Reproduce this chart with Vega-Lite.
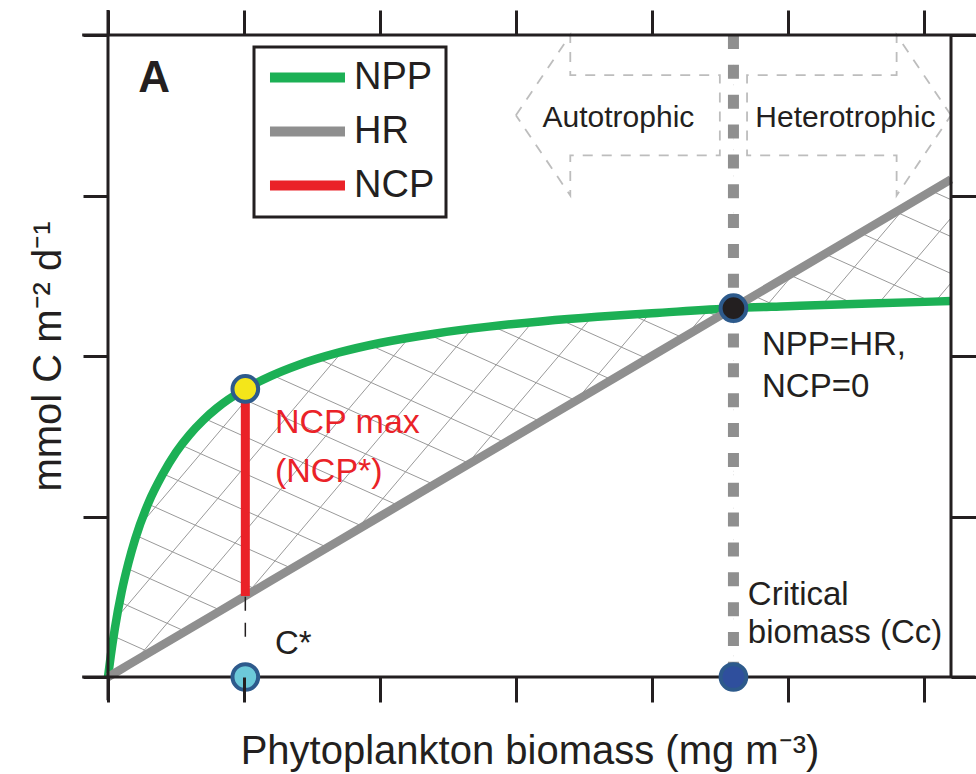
{
  "$schema": "https://vega.github.io/schema/vega-lite/v6.json",
  "width": 843,
  "height": 642,
  "autosize": "none",
  "padding": {"left": 108, "top": 35, "right": 25, "bottom": 97},
  "background": "white",
  "config": {"view": {"stroke": null}, "font": "Liberation Sans", "legend": {"strokeWidth": 3}},
  "datasets": {
    "curve": [
      {"x": 0, "npp": 0, "hr": 0},
      {"x": 0.02, "npp": 0.13, "hr": 0.01},
      {"x": 0.05, "npp": 0.3, "hr": 0.025},
      {"x": 0.1, "npp": 0.53, "hr": 0.05},
      {"x": 0.15, "npp": 0.71, "hr": 0.075},
      {"x": 0.2, "npp": 0.86, "hr": 0.1},
      {"x": 0.3, "npp": 1.09, "hr": 0.15},
      {"x": 0.4, "npp": 1.26, "hr": 0.2},
      {"x": 0.5, "npp": 1.4, "hr": 0.25},
      {"x": 0.6, "npp": 1.51, "hr": 0.3},
      {"x": 0.7, "npp": 1.6, "hr": 0.35},
      {"x": 0.8, "npp": 1.675, "hr": 0.4},
      {"x": 1.0, "npp": 1.79, "hr": 0.5},
      {"x": 1.2, "npp": 1.876, "hr": 0.6},
      {"x": 1.4, "npp": 1.944, "hr": 0.7},
      {"x": 1.7, "npp": 2.022, "hr": 0.85},
      {"x": 2.0, "npp": 2.081, "hr": 1.0},
      {"x": 2.4, "npp": 2.139, "hr": 1.2},
      {"x": 2.8, "npp": 2.183, "hr": 1.4},
      {"x": 3.2, "npp": 2.217, "hr": 1.6},
      {"x": 3.6, "npp": 2.244, "hr": 1.8},
      {"x": 4.0, "npp": 2.266, "hr": 2.0},
      {"x": 4.6, "npp": 2.298, "hr": 2.3},
      {"x": 5.0, "npp": 2.31, "hr": 2.5},
      {"x": 5.6, "npp": 2.327, "hr": 2.8},
      {"x": 6.2, "npp": 2.342, "hr": 3.1}
    ],
    "hatch": [
      {"x": 0, "y": 5.56, "x2": 6.2, "y2": 3.204},
      {"x": 0, "y": 5.33, "x2": 6.2, "y2": 2.974},
      {"x": 0, "y": 5.1, "x2": 6.2, "y2": 2.744},
      {"x": 0, "y": 4.87, "x2": 6.2, "y2": 2.514},
      {"x": 0, "y": 4.64, "x2": 6.2, "y2": 2.284},
      {"x": 0, "y": 4.41, "x2": 6.2, "y2": 2.054},
      {"x": 0, "y": 4.18, "x2": 6.2, "y2": 1.824},
      {"x": 0, "y": 3.95, "x2": 6.2, "y2": 1.594},
      {"x": 0, "y": 3.72, "x2": 6.2, "y2": 1.364},
      {"x": 0, "y": 3.49, "x2": 6.2, "y2": 1.134},
      {"x": 0, "y": 3.26, "x2": 6.2, "y2": 0.904},
      {"x": 0, "y": 3.03, "x2": 6.2, "y2": 0.674},
      {"x": 0, "y": 2.8, "x2": 6.2, "y2": 0.444},
      {"x": 0, "y": 2.57, "x2": 6.2, "y2": 0.214},
      {"x": 0, "y": 2.34, "x2": 6.2, "y2": -0.016},
      {"x": 0, "y": 2.11, "x2": 6.2, "y2": -0.246},
      {"x": 0, "y": 1.88, "x2": 6.2, "y2": -0.476},
      {"x": 0, "y": 1.65, "x2": 6.2, "y2": -0.706},
      {"x": 0, "y": 1.42, "x2": 6.2, "y2": -0.936},
      {"x": 0, "y": 1.19, "x2": 6.2, "y2": -1.166},
      {"x": 0, "y": 0.96, "x2": 6.2, "y2": -1.396},
      {"x": 0, "y": 0.73, "x2": 6.2, "y2": -1.626},
      {"x": 0, "y": 0.5, "x2": 6.2, "y2": -1.856},
      {"x": 0, "y": 0.27, "x2": 6.2, "y2": -2.086},
      {"x": 0, "y": 0.04, "x2": 6.2, "y2": -2.316},
      {"x": 0, "y": -3.745, "x2": 6.2, "y2": 2.455},
      {"x": 0, "y": -3.34, "x2": 6.2, "y2": 2.86},
      {"x": 0, "y": -2.935, "x2": 6.2, "y2": 3.265},
      {"x": 0, "y": -2.53, "x2": 6.2, "y2": 3.67},
      {"x": 0, "y": -2.125, "x2": 6.2, "y2": 4.075},
      {"x": 0, "y": -1.72, "x2": 6.2, "y2": 4.48},
      {"x": 0, "y": -1.315, "x2": 6.2, "y2": 4.885},
      {"x": 0, "y": -0.91, "x2": 6.2, "y2": 5.29},
      {"x": 0, "y": -0.505, "x2": 6.2, "y2": 5.695},
      {"x": 0, "y": -0.1, "x2": 6.2, "y2": 6.1},
      {"x": 0, "y": 0.305, "x2": 6.2, "y2": 6.505},
      {"x": 0, "y": 0.71, "x2": 6.2, "y2": 6.91},
      {"x": 0, "y": 1.115, "x2": 6.2, "y2": 7.315},
      {"x": 0, "y": 1.52, "x2": 6.2, "y2": 7.72},
      {"x": 0, "y": 1.925, "x2": 6.2, "y2": 8.125},
      {"x": 0, "y": 2.33, "x2": 6.2, "y2": 8.53}
    ],
    "frame": [
      {"x": -0.19, "x2": 6.38, "y": 0, "y2": 0},
      {"x": -0.19, "x2": 6.38, "y": 4, "y2": 4},
      {"x": 0, "x2": 0, "y": -0.145, "y2": 4.155},
      {"x": 6.2, "x2": 6.2, "y": 0, "y2": 4}
    ],
    "arrows": [
      {"shape": "auto", "i": 0, "x": 3.0, "y": 3.5},
      {"shape": "auto", "i": 1, "x": 3.4, "y": 4.0},
      {"shape": "auto", "i": 2, "x": 3.4, "y": 3.75},
      {"shape": "auto", "i": 3, "x": 4.5, "y": 3.75},
      {"shape": "auto", "i": 4, "x": 4.5, "y": 3.25},
      {"shape": "auto", "i": 5, "x": 3.4, "y": 3.25},
      {"shape": "auto", "i": 6, "x": 3.4, "y": 3.0},
      {"shape": "auto", "i": 7, "x": 3.0, "y": 3.5},
      {"shape": "hetero", "i": 0, "x": 6.2, "y": 3.5},
      {"shape": "hetero", "i": 1, "x": 5.8, "y": 4.0},
      {"shape": "hetero", "i": 2, "x": 5.8, "y": 3.75},
      {"shape": "hetero", "i": 3, "x": 4.7, "y": 3.75},
      {"shape": "hetero", "i": 4, "x": 4.7, "y": 3.25},
      {"shape": "hetero", "i": 5, "x": 5.8, "y": 3.25},
      {"shape": "hetero", "i": 6, "x": 5.8, "y": 3.0},
      {"shape": "hetero", "i": 7, "x": 6.2, "y": 3.5}
    ],
    "notes": [
      {"t": "NPP=HR,", "x": 4.81, "y": 2.006},
      {"t": "NCP=0", "x": 4.81, "y": 1.746},
      {"t": "Critical", "x": 4.706, "y": 0.449},
      {"t": "biomass (Cc)", "x": 4.706, "y": 0.214},
      {"t": "C*", "x": 1.228, "y": 0.143}
    ],
    "ncpnotes": [
      {"t": "NCP max", "x": 1.228, "y": 1.522},
      {"t": "(NCP*)", "x": 1.228, "y": 1.217}
    ],
    "regions": [
      {"t": "Autotrophic", "x": 3.754, "y": 3.429},
      {"t": "Heterotrophic", "x": 5.423, "y": 3.429}
    ],
    "panel": [{"t": "A", "x": 0.34, "y": 3.645}],
    "points": [
      {"name": "NCP max", "x": 1.01, "y": 1.795},
      {"name": "C*", "x": 1.01, "y": 0},
      {"name": "NPP=HR", "x": 4.6, "y": 2.298},
      {"name": "Cc", "x": 4.6, "y": 0}
    ]
  },
  "resolve": {"axis": {"x": "independent", "y": "independent"}},
  "layer": [
    {
      "data": {"name": "hatch"},
      "mark": {"type": "rule", "clip": true, "color": "#999999", "strokeWidth": 1},
      "encoding": {
        "x": {"field": "x", "type": "quantitative", "scale": {"domain": [0, 6.2], "nice": false, "zero": false}, "axis": null},
        "y": {"field": "y", "type": "quantitative", "scale": {"domain": [0, 4], "nice": false, "zero": false}, "axis": null},
        "x2": {"field": "x2"},
        "y2": {"field": "y2"}
      }
    },
    {
      "data": {"name": "curve"},
      "transform": [{"filter": "datum.x <= 4.6"}],
      "mark": {"type": "area", "interpolate": "monotone", "color": "white", "clip": true},
      "encoding": {
        "x": {"field": "x", "type": "quantitative", "axis": null},
        "y": {"field": "npp", "type": "quantitative", "axis": null},
        "y2": {"datum": 4}
      }
    },
    {
      "data": {"name": "curve"},
      "transform": [{"filter": "datum.x >= 4.6"}],
      "mark": {"type": "area", "color": "white", "clip": true},
      "encoding": {
        "x": {"field": "x", "type": "quantitative", "axis": null},
        "y": {"field": "hr", "type": "quantitative", "axis": null},
        "y2": {"datum": 4}
      }
    },
    {
      "data": {"name": "curve"},
      "transform": [{"filter": "datum.x <= 4.6"}],
      "mark": {"type": "area", "color": "white", "clip": true},
      "encoding": {
        "x": {"field": "x", "type": "quantitative", "axis": null},
        "y": {"field": "hr", "type": "quantitative", "axis": null},
        "y2": {"datum": 0}
      }
    },
    {
      "data": {"name": "curve"},
      "transform": [{"filter": "datum.x >= 4.6"}],
      "mark": {"type": "area", "interpolate": "monotone", "color": "white", "clip": true},
      "encoding": {
        "x": {"field": "x", "type": "quantitative", "axis": null},
        "y": {"field": "npp", "type": "quantitative", "axis": null},
        "y2": {"datum": 0}
      }
    },
    {
      "data": {"values": [{"x": 4.6, "y": 4, "y2": 0}]},
      "mark": {"type": "rule", "color": "#8f8f8f", "strokeWidth": 11, "strokeDash": [14, 15.85]},
      "encoding": {
        "x": {"field": "x", "type": "quantitative", "axis": null},
        "y": {"field": "y", "type": "quantitative", "axis": null},
        "y2": {"field": "y2"}
      }
    },
    {
      "data": {"name": "curve"},
      "mark": {"type": "line", "strokeWidth": 8.5, "interpolate": "monotone", "strokeCap": "butt"},
      "encoding": {
        "x": {"field": "x", "type": "quantitative",
          "axis": {"orient": "bottom", "values": [0, 1, 2, 3, 4, 5, 6], "labels": false, "domain": false, "grid": false, "tickSize": 25, "tickWidth": 3, "tickColor": "#231f20", "title": "Phytoplankton biomass (mg m⁻³)", "titleFont": "Liberation Sans", "titleFontSize": 40, "titleFontWeight": "normal", "titleColor": "#231f20", "titleBaseline": "alphabetic", "titlePadding": 60, "zindex": 1}},
        "y": {"field": "npp", "type": "quantitative",
          "axis": {"orient": "left", "values": [0, 1, 2, 3, 4], "labels": false, "domain": false, "grid": false, "tickSize": 25, "tickWidth": 3, "tickColor": "#231f20", "title": "mmol C m⁻² d⁻¹", "titleFont": "Liberation Sans", "titleFontSize": 40, "titleFontWeight": "normal", "titleColor": "#231f20", "titleBaseline": "alphabetic", "titlePadding": 21, "zindex": 1}},
        "color": {"datum": "NPP", "type": "nominal",
          "scale": {"domain": ["NPP", "HR", "NCP"], "range": ["#1cb055", "#8f8f8f", "#ea2228"]},
          "legend": {"orient": "none", "legendX": 146, "legendY": 12, "title": null, "symbolType": "M-1.036,0H4.321", "symbolSize": 784, "symbolStrokeWidth": 10, "labelFont": "Liberation Sans", "labelFontSize": 38, "labelColor": "#231f20", "labelOffset": 50.5, "padding": 11.5, "rowPadding": 14, "strokeColor": "#231f20", "fillColor": "white", "labelLimit": 300}}
      }
    },
    {
      "data": {"name": "curve"},
      "mark": {"type": "line", "strokeWidth": 8.5, "strokeCap": "butt"},
      "encoding": {
        "x": {"field": "x", "type": "quantitative",
          "axis": {"orient": "top", "values": [0, 1, 2, 3, 4, 5, 6], "labels": false, "domain": false, "grid": false, "tickSize": 25, "tickWidth": 3, "tickColor": "#231f20", "title": null, "zindex": 1}},
        "y": {"field": "hr", "type": "quantitative",
          "axis": {"orient": "right", "values": [0, 1, 2, 3, 4], "labels": false, "domain": false, "grid": false, "tickSize": 25, "tickWidth": 3, "tickColor": "#231f20", "title": null, "zindex": 1}},
        "color": {"datum": "HR", "type": "nominal"}
      }
    },
    {
      "data": {"values": [{"x": 1.01, "hr": 0.505, "npp": 1.795}]},
      "mark": {"type": "rule", "strokeWidth": 9},
      "encoding": {
        "x": {"field": "x", "type": "quantitative", "axis": null},
        "y": {"field": "hr", "type": "quantitative", "axis": null},
        "y2": {"field": "npp"},
        "color": {"datum": "NCP", "type": "nominal"}
      }
    },
    {
      "data": {"values": [{"x": 1.01, "y": 0.5, "y2": 0.2}]},
      "mark": {"type": "rule", "color": "#231f20", "strokeWidth": 1.5, "strokeDash": [14, 12]},
      "encoding": {
        "x": {"field": "x", "type": "quantitative", "axis": null},
        "y": {"field": "y", "type": "quantitative", "axis": null},
        "y2": {"field": "y2"}
      }
    },
    {
      "data": {"name": "arrows"},
      "mark": {"type": "line", "color": "#bdbdbd", "strokeWidth": 1.8, "strokeDash": [10, 9]},
      "encoding": {
        "x": {"field": "x", "type": "quantitative", "axis": null},
        "y": {"field": "y", "type": "quantitative", "axis": null},
        "detail": {"field": "shape"},
        "order": {"field": "i"}
      }
    },
    {
      "data": {"name": "notes"},
      "mark": {"type": "text", "align": "left", "baseline": "alphabetic", "fontSize": 33, "font": "Liberation Sans", "color": "#231f20"},
      "encoding": {
        "x": {"field": "x", "type": "quantitative", "axis": null},
        "y": {"field": "y", "type": "quantitative", "axis": null},
        "text": {"field": "t"}
      }
    },
    {
      "data": {"name": "ncpnotes"},
      "mark": {"type": "text", "align": "left", "baseline": "alphabetic", "fontSize": 34, "font": "Liberation Sans", "color": "#ea2228"},
      "encoding": {
        "x": {"field": "x", "type": "quantitative", "axis": null},
        "y": {"field": "y", "type": "quantitative", "axis": null},
        "text": {"field": "t"}
      }
    },
    {
      "data": {"name": "regions"},
      "mark": {"type": "text", "align": "center", "baseline": "alphabetic", "fontSize": 30, "font": "Liberation Sans", "color": "#231f20"},
      "encoding": {
        "x": {"field": "x", "type": "quantitative", "axis": null},
        "y": {"field": "y", "type": "quantitative", "axis": null},
        "text": {"field": "t"}
      }
    },
    {
      "data": {"name": "panel"},
      "mark": {"type": "text", "align": "center", "baseline": "alphabetic", "fontSize": 44, "fontWeight": "bold", "font": "Liberation Sans", "color": "#231f20"},
      "encoding": {
        "x": {"field": "x", "type": "quantitative", "axis": null},
        "y": {"field": "y", "type": "quantitative", "axis": null},
        "text": {"field": "t"}
      }
    },
    {
      "data": {"name": "frame"},
      "mark": {"type": "rule", "color": "#231f20", "strokeWidth": 3},
      "encoding": {
        "x": {"field": "x", "type": "quantitative", "axis": null},
        "y": {"field": "y", "type": "quantitative", "axis": null},
        "x2": {"field": "x2"},
        "y2": {"field": "y2"}
      }
    },
    {
      "data": {"name": "points"},
      "mark": {"type": "point", "filled": true, "shape": "circle", "size": 660, "strokeWidth": 4, "stroke": "#2d5a8c", "opacity": 1},
      "encoding": {
        "x": {"field": "x", "type": "quantitative", "axis": null},
        "y": {"field": "y", "type": "quantitative", "axis": null},
        "fill": {"field": "name", "type": "nominal",
          "scale": {"domain": ["NCP max", "C*", "NPP=HR", "Cc"], "range": ["#f4e61a", "#6cc9d9", "#231f20", "#2f4f9d"]},
          "legend": null}
      }
    }
  ]
}
